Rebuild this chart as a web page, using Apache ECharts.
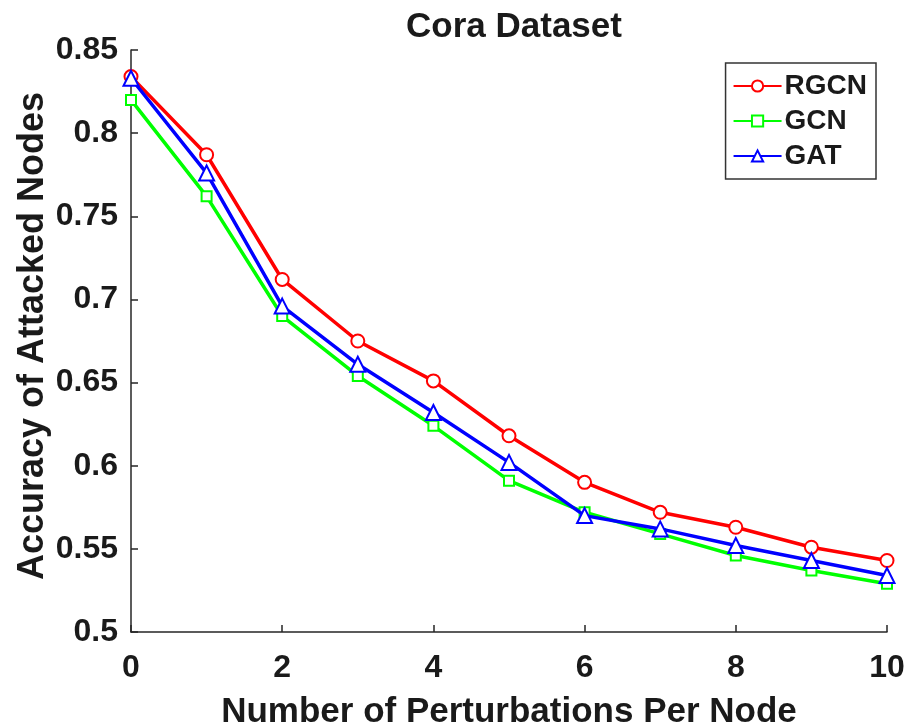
<!DOCTYPE html>
<html>
<head>
<meta charset="utf-8">
<script src="https://cdn.jsdelivr.net/npm/echarts@6/dist/echarts.min.js"></script>
<style>
  html, body { margin: 0; padding: 0; background: #fff; }
  #chart1 { width: 911px; height: 725px; }
</style>
</head>
<body>
<div id="chart1"></div>
<script>
const perturbations = [0, 1, 2, 3, 4, 5, 6, 7, 8, 9, 10];
const rgcn = [0.834, 0.787, 0.712, 0.675, 0.651, 0.618, 0.590, 0.572, 0.563, 0.551, 0.543];
const gcn  = [0.820, 0.762, 0.690, 0.654, 0.624, 0.591, 0.572, 0.559, 0.546, 0.537, 0.529];
const gat  = [0.833, 0.776, 0.696, 0.661, 0.632, 0.602, 0.570, 0.562, 0.552, 0.543, 0.534];

const font = '"Liberation Sans", Arial, Helvetica, sans-serif';
const axisColor = '#262626';
const textColor = '#1a1a1a';

const pairs = (ys) => perturbations.map((x, i) => [x, ys[i]]);

const serie = (name, ys, color, symbol, size) => ({
  name: name,
  type: 'line',
  data: pairs(ys),
  symbol: symbol,
  symbolSize: size,
  lineStyle: { color: color, width: 3.5 },
  itemStyle: { color: color, borderColor: color, borderWidth: 2.5 },
  emphasis: { disabled: true },
  z: name === 'GAT' ? 5 : (name === 'RGCN' ? 4 : 3)
});

const chart1 = echarts.init(document.getElementById('chart1'));

const option = {
  animation: false,
  backgroundColor: '#fff',
  title: {
    text: 'Cora Dataset',
    left: 509,
    textAlign: 'center',
    top: 5,
    textStyle: { fontFamily: font, fontSize: 35, fontWeight: 'bold', color: textColor }
  },
  grid: { left: 131, right: 24, top: 50, bottom: 93, containLabel: false, outerBoundsMode: 'none' },
  legend: {
    right: 35,
    top: 63,
    orient: 'vertical',
    itemWidth: 48,
    itemHeight: 14,
    itemGap: 7,
    padding: [9, 9, 9, 7],
    borderColor: '#333',
    borderWidth: 1.5,
    textStyle: { fontFamily: font, fontSize: 28, fontWeight: 'bold', color: textColor, padding: [0, 0, 0, -2] },
    data: ['RGCN', 'GCN', 'GAT']
  },
  xAxis: {
    type: 'value',
    min: 0,
    max: 10,
    interval: 2,
    name: 'Number of Perturbations Per Node',
    nameLocation: 'middle',
    nameGap: 63,
    nameMoveOverlap: false,
    nameTextStyle: { fontFamily: font, fontSize: 35, fontWeight: 'bold', color: textColor },
    axisLine: { show: true, lineStyle: { color: axisColor, width: 1.5 } },
    axisTick: { show: true, inside: true, length: 7, lineStyle: { color: axisColor, width: 1.5 } },
    axisLabel: { fontFamily: font, fontSize: 32, fontWeight: 'bold', color: textColor, margin: 20 },
    splitLine: { show: false }
  },
  yAxis: {
    type: 'value',
    min: 0.5,
    max: 0.85,
    interval: 0.05,
    name: 'Accuracy of Attacked Nodes',
    nameLocation: 'middle',
    nameGap: 80,
    nameMoveOverlap: false,
    nameTextStyle: { fontFamily: font, fontSize: 36, fontWeight: 'bold', color: textColor, padding: [0, 0, 0, 10] },
    axisLine: { show: true, lineStyle: { color: axisColor, width: 1.5 } },
    axisTick: { show: true, inside: true, length: 7, lineStyle: { color: axisColor, width: 1.5 } },
    axisLabel: { fontFamily: font, fontSize: 32, fontWeight: 'bold', color: textColor, margin: 13 },
    splitLine: { show: false }
  },
  series: [
    serie('RGCN', rgcn, '#ff0000', 'emptyCircle', 13),
    serie('GCN', gcn, '#00ff00', 'emptyRect', 10),
    serie('GAT', gat, '#0000ff', 'emptyTriangle', 15)
  ]
};

chart1.setOption(option);
</script>
</body>
</html>
